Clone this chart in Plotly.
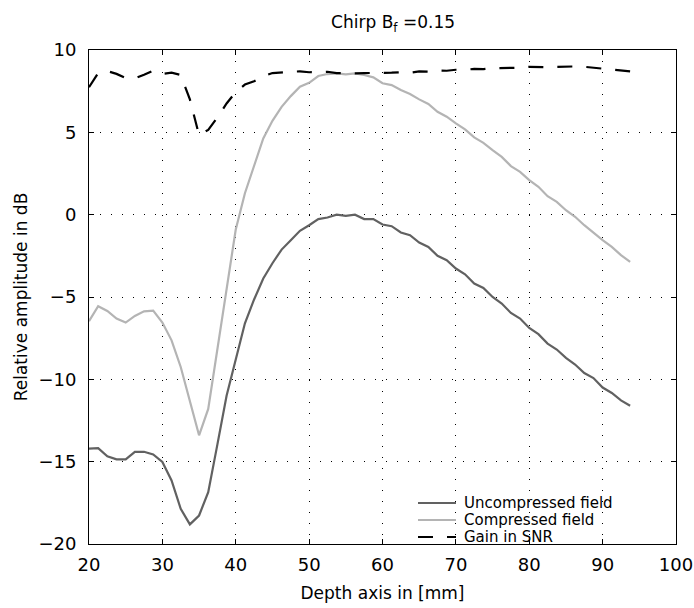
import plotly.graph_objects as go

depth = [20.00, 21.25, 22.50, 23.75, 25.00, 26.25, 27.50, 28.75, 30.00, 31.25,
         32.50, 33.75, 35.00, 36.25, 37.50, 38.75, 40.00, 41.25, 42.50, 43.75,
         45.00, 46.25, 47.50, 48.75, 50.00, 51.25, 52.50, 53.75, 55.00, 56.25,
         57.50, 58.75, 60.00, 61.25, 62.50, 63.75, 65.00, 66.25, 67.50, 68.75,
         70.00, 71.25, 72.50, 73.75, 75.00, 76.25, 77.50, 78.75, 80.00, 81.25,
         82.50, 83.75, 85.00, 86.25, 87.50, 88.75, 90.00, 91.25, 92.50, 93.75]

uncompressed = [-14.21, -14.18, -14.68, -14.86, -14.86, -14.40, -14.40, -14.56, -15.02, -16.14,
                -17.86, -18.81, -18.27, -16.85, -13.95, -11.00, -8.80, -6.60, -5.15, -3.88,
                -2.95, -2.12, -1.55, -0.98, -0.64, -0.27, -0.17, 0.00, -0.07, 0.00,
                -0.27, -0.27, -0.60, -0.70, -1.08, -1.25, -1.69, -1.96, -2.50, -2.77,
                -3.27, -3.62, -4.18, -4.45, -5.00, -5.40, -5.97, -6.31, -6.88, -7.26,
                -7.83, -8.19, -8.70, -9.10, -9.62, -9.92, -10.50, -10.83, -11.28, -11.60]

compressed = [-6.47, -5.56, -5.85, -6.31, -6.55, -6.15, -5.87, -5.83, -6.55, -7.63,
              -9.25, -11.28, -13.40, -11.80, -8.10, -4.60, -0.90, 1.30, 2.90, 4.63,
              5.70, 6.55, 7.20, 7.77, 8.01, 8.42, 8.54, 8.58, 8.52, 8.58,
              8.48, 8.34, 7.98, 7.87, 7.57, 7.33, 7.00, 6.72, 6.25, 5.95,
              5.54, 5.18, 4.69, 4.36, 3.92, 3.51, 2.95, 2.60, 2.10, 1.69,
              1.12, 0.78, 0.27, -0.13, -0.64, -1.10, -1.55, -1.96, -2.46, -2.87]

gain = [7.74, 8.60, 8.72, 8.55, 8.30, 8.28, 8.50, 8.75, 8.55, 8.62,
        8.48, 7.00, 4.83, 5.15, 5.90, 6.75, 7.45, 7.90, 8.10, 8.40,
        8.60, 8.65, 8.68, 8.70, 8.65, 8.66, 8.68, 8.60, 8.58, 8.58,
        8.60, 8.60, 8.62, 8.62, 8.65, 8.62, 8.70, 8.68, 8.75, 8.74,
        8.80, 8.80, 8.85, 8.84, 8.90, 8.91, 8.92, 8.92, 8.98, 8.96,
        8.96, 8.98, 9.00, 9.00, 8.98, 8.92, 8.88, 8.84, 8.78, 8.70]

series_names = ["Uncompressed field", "Compressed field", "Gain in SNR"]
series_colors = ["#616161", "#b4b4b4", "#000000"]
series_dash = ["solid", "solid", "15px,14px"]
x_ticks = [20, 30, 40, 50, 60, 70, 80, 90, 100]
y_ticks = [-20, -15, -10, -5, 0, 5, 10]

FONT = "DejaVu Sans, Liberation Sans, Arial, sans-serif"

W, H = 694, 608
ML, MR, MT, MB = 89, 18, 50, 64
PW, PH = W - ML - MR, H - MT - MB

fig = go.Figure()
for name, yv, col, dsh in zip(series_names, [uncompressed, compressed, gain], series_colors, series_dash):
    fig.add_trace(go.Scatter(x=depth, y=yv, mode="lines", name=name,
                             line=dict(color=col, width=2.2, dash=dsh)))

axis_common = dict(
    showline=True, linecolor="black", linewidth=1, mirror="allticks",
    ticks="inside", ticklen=5, tickcolor="black", tickwidth=1,
    showgrid=True, gridcolor="black", gridwidth=1, griddash="1px,10px",
    zeroline=False, automargin=False, ticklabeloverflow="allow",
    tickfont=dict(family=FONT, size=18, color="black"),
)

def px2paper_x(px):
    return (px - ML) / PW

def py2paper_y(py):
    return (H - MB - py) / PH

# legend (keys + labels) in the lower-right corner of the axes
legend_rows_y = [503, 520, 537]
shapes = [dict(type="rect", xref="paper", yref="paper",
               x0=px2paper_x(410), x1=px2paper_x(674), y0=py2paper_y(543), y1=py2paper_y(493),
               fillcolor="white", line=dict(width=0), layer="below")]
annotations = []
for name, col, dsh, ry in zip(series_names, series_colors, series_dash, legend_rows_y):
    shapes.append(dict(type="line", xref="paper", yref="paper",
                       x0=px2paper_x(418), x1=px2paper_x(456),
                       y0=py2paper_y(ry), y1=py2paper_y(ry),
                       line=dict(color=col, width=2.2, dash=dsh)))
    annotations.append(dict(text=name, xref="paper", yref="paper",
                            x=px2paper_x(462), y=py2paper_y(ry),
                            xanchor="left", yanchor="middle", showarrow=False,
                            font=dict(family=FONT, size=15, color="black")))

fig.update_layout(
    width=W, height=H,
    margin=dict(l=ML, r=MR, t=MT, b=MB),
    paper_bgcolor="white", plot_bgcolor="white",
    font=dict(family=FONT, size=16, color="black"),
    title=dict(text="Chirp B<sub>f</sub> =0.15", x=0.518, xref="paper", xanchor="center",
               y=1 - 22 / H, yanchor="middle", font=dict(family=FONT, size=17)),
    xaxis=dict(range=[20, 100], tickvals=x_ticks, ticklabelstandoff=4,
               title=dict(text="Depth axis in [mm]", font=dict(family=FONT, size=17), standoff=13),
               **axis_common),
    yaxis=dict(range=[-20, 10], tickvals=y_ticks, ticklabelstandoff=8,
               title=dict(text="Relative amplitude in dB", font=dict(family=FONT, size=17), standoff=6),
               **axis_common),
    shapes=shapes,
    annotations=annotations,
    showlegend=False,
)

fig.write_html("out.html")
